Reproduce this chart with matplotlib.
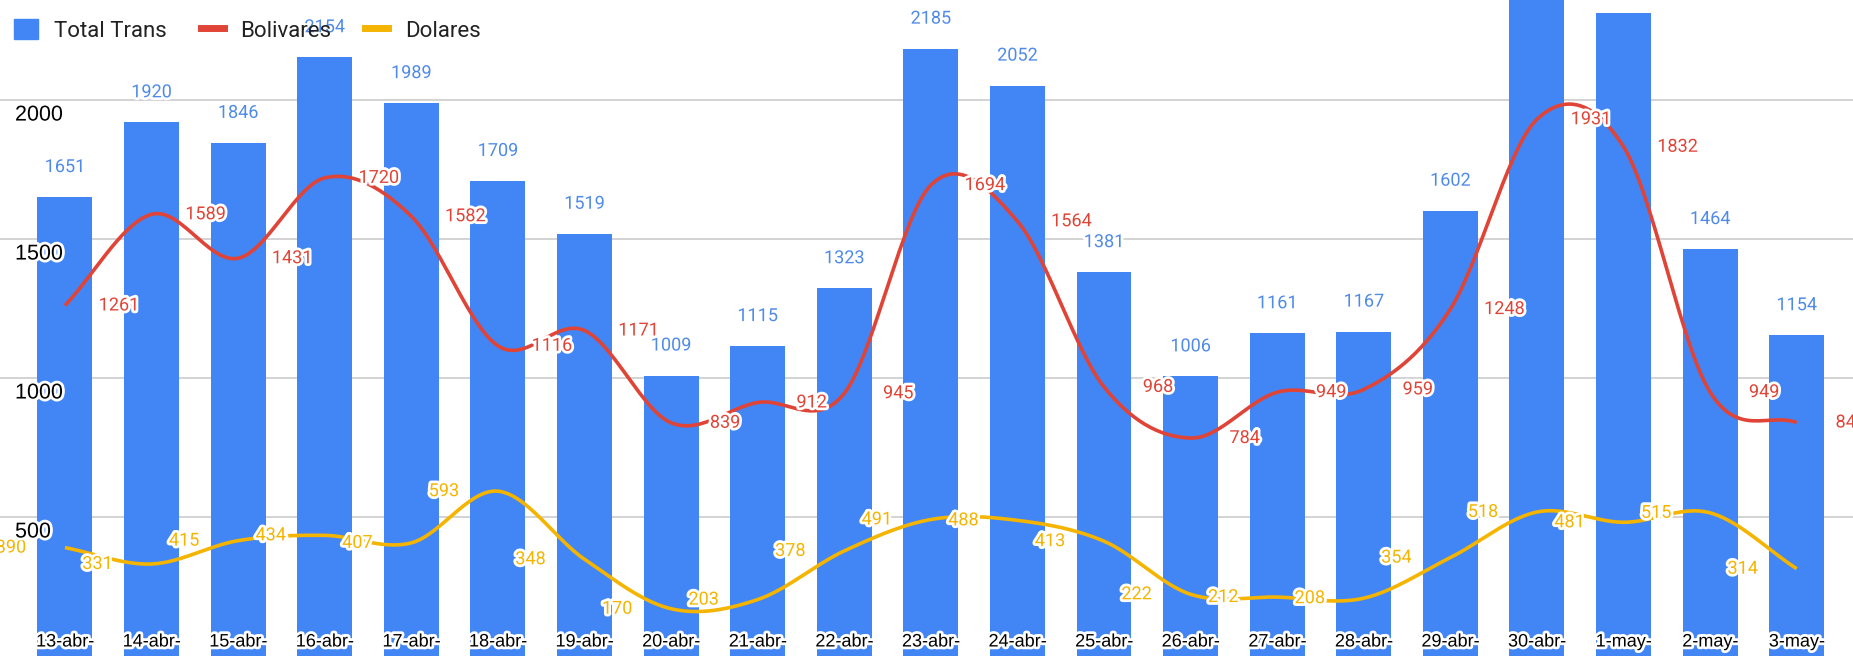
import numpy as np
import matplotlib
matplotlib.use("Agg")
import matplotlib.pyplot as plt
import matplotlib.patheffects as pe
from matplotlib.patches import Patch
from matplotlib.lines import Line2D
from matplotlib import font_manager

# data
dias = ["13-abr-", "14-abr-", "15-abr-", "16-abr-", "17-abr-", "18-abr-", "19-abr-",
        "20-abr-", "21-abr-", "22-abr-", "23-abr-", "24-abr-", "25-abr-", "26-abr-",
        "27-abr-", "28-abr-", "29-abr-", "30-abr-", "1-may-", "2-may-", "3-may-"]
total_trans = [1651, 1920, 1846, 2154, 1989, 1709, 1519, 1009, 1115, 1323, 2185,
               2052, 1381, 1006, 1161, 1167, 1602, 2449, 2313, 1464, 1154]
bolivares = [1261, 1589, 1431, 1720, 1582, 1116, 1171, 839, 912, 945, 1694,
             1564, 968, 784, 949, 959, 1248, 1931, 1832, 949, 840]
dolares = [390, 331, 415, 434, 407, 593, 348, 170, 203, 378, 491,
           488, 413, 222, 212, 208, 354, 518, 481, 515, 314]
y_ticks = [500, 1000, 1500, 2000]

BLUE = "#4285F4"
BLUE_TXT = "#4f8ae9"
RED = "#E04436"
YELLOW = "#F4B400"

names = {f.name for f in font_manager.fontManager.ttflist}
narrow = "Liberation Sans Narrow" if "Liberation Sans Narrow" in names else "Liberation Sans"
plt.rcParams["font.family"] = ["Roboto", "DejaVu Sans"]


def smooth(y, n=30):
    # catmull-rom curve through the points, like the google "function" curve
    y = np.asarray(y, float)
    x = np.arange(len(y))
    m = np.gradient(y)
    xs, ys = [], []
    for i in range(len(y) - 1):
        t = np.linspace(0, 1, n, endpoint=False)
        h00 = 2 * t**3 - 3 * t**2 + 1
        h10 = t**3 - 2 * t**2 + t
        h01 = -2 * t**3 + 3 * t**2
        h11 = t**3 - t**2
        xs.append(x[i] + t)
        ys.append(h00 * y[i] + h10 * m[i] + h01 * y[i + 1] + h11 * m[i + 1])
    xs.append([x[-1]])
    ys.append([y[-1]])
    return np.concatenate(xs), np.concatenate(ys)


fig = plt.figure(figsize=(18.53, 6.56), dpi=100)
ax = fig.add_axes([0, 0, 1, 1])
x = np.arange(len(dias))

halo = [pe.withStroke(linewidth=4, foreground="white")]

ax.bar(x, total_trans, width=0.635, color=BLUE, zorder=2)

bx, by = smooth(bolivares)
ax.plot(bx, by, color=RED, lw=2.6, zorder=3, solid_capstyle="butt")
dx, dy = smooth(dolares)
ax.plot(dx, dy, color=YELLOW, lw=2.6, zorder=3, solid_capstyle="butt")

ax.set_xlim(-0.75, 20.65)
ax.set_ylim(0, 2360)
for s in ax.spines.values():
    s.set_visible(False)
ax.set_xticks([])
ax.set_yticks([])

# grid lines
for v in y_ticks:
    ax.axhline(v, color="#cccccc", lw=1.2, zorder=1)
    ax.annotate(str(v), xy=(0, v), xycoords=("axes fraction", "data"),
                xytext=(15, -15), textcoords="offset pixels", ha="left", va="center",
                fontsize=15.5, color="black", family=["Liberation Sans", "DejaVu Sans"],
                zorder=6, path_effects=halo)

# value labels
for i, v in enumerate(total_trans):
    ax.annotate(str(v), xy=(i, v), xytext=(0, 30), textcoords="offset pixels",
                ha="center", va="center", fontsize=13, color=BLUE_TXT, zorder=5,
                path_effects=halo)
for i, v in enumerate(bolivares):
    ax.annotate(str(v), xy=(i, v), xytext=(54, 0), textcoords="offset pixels",
                ha="center", va="center", fontsize=13, color=RED, zorder=5,
                path_effects=halo, annotation_clip=False)
for i, v in enumerate(dolares):
    ax.annotate(str(v), xy=(i, v), xytext=(-54, 0), textcoords="offset pixels",
                ha="center", va="center", fontsize=13, color=YELLOW, zorder=5,
                path_effects=halo, annotation_clip=False)

# category labels inside the bars
for i, d in enumerate(dias):
    ax.annotate(d, xy=(i, 0), xytext=(0, 14), textcoords="offset pixels",
                ha="center", va="center", fontsize=13, color="black",
                family=[narrow, "DejaVu Sans"], zorder=6, path_effects=halo)

handles = [Patch(facecolor=BLUE, edgecolor=BLUE),
           Line2D([0], [0], color=RED, lw=5),
           Line2D([0], [0], color=YELLOW, lw=5)]
leg = ax.legend(handles, ["Total Trans", "Bolivares", "Dolares"], loc="upper left",
                bbox_to_anchor=(0.003, 0.985), ncol=3, frameon=False, fontsize=16,
                handlelength=1.05, handleheight=1.05, handletextpad=0.75,
                columnspacing=1.5, borderaxespad=0)
for t in leg.get_texts():
    t.set_color("#222222")
leg.set_zorder(10)

fig.savefig("out.png", dpi=100)
